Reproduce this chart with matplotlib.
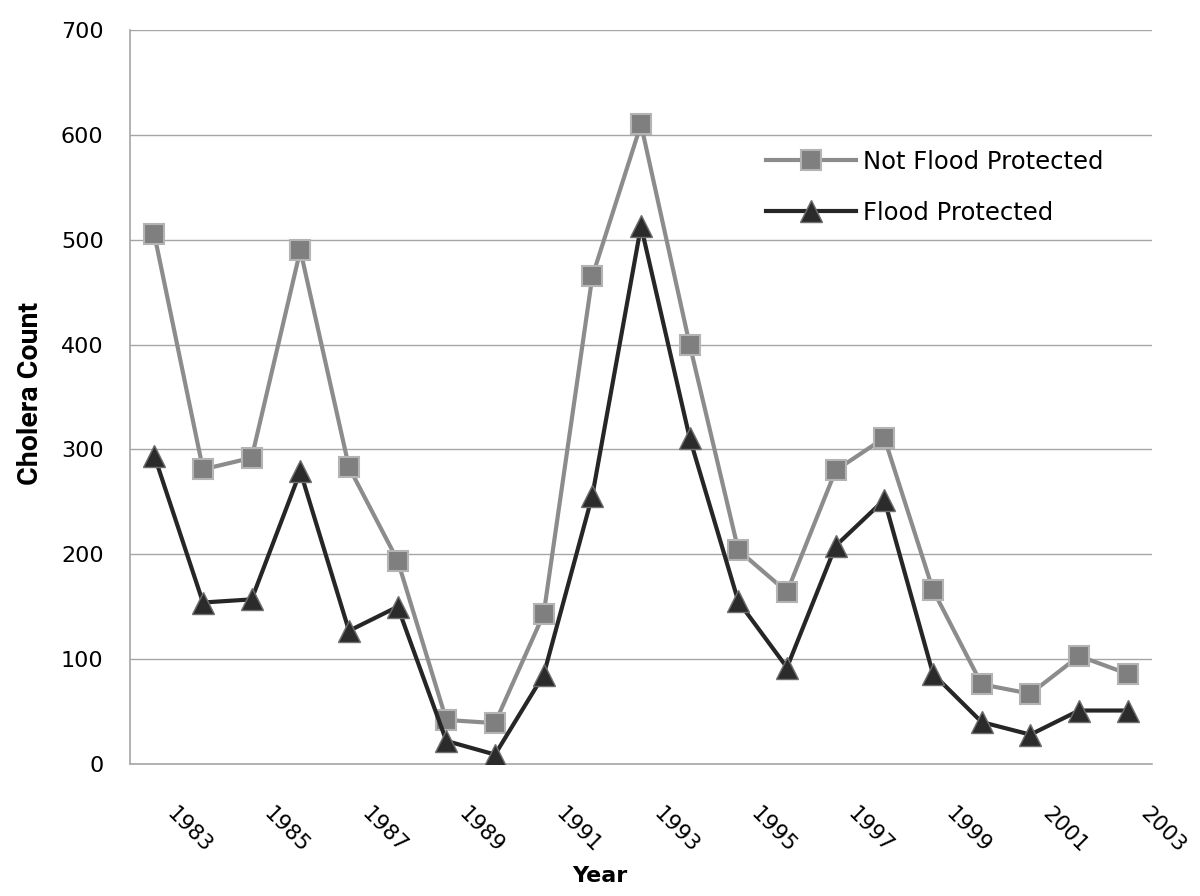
import matplotlib
matplotlib.use("Agg")
import matplotlib.pyplot as plt
from matplotlib.transforms import ScaledTranslation

years = list(range(1983, 2004))
not_protected = [505, 281, 292, 490, 283, 194, 42, 39, 143, 465, 610,
                 400, 204, 164, 280, 311, 166, 76, 67, 103, 86]
protected = [294, 154, 157, 279, 127, 150, 22, 9, 85, 256, 513,
             311, 155, 92, 208, 252, 86, 40, 28, 51, 51]
label_years = years[::2]
y_ticks = [0, 100, 200, 300, 400, 500, 600, 700]

fig = plt.figure(figsize=(12, 8.96), dpi=100)
ax = fig.add_axes([130/1200, 1-764/896, (1152-130)/1200, (764-30)/896])

x = list(range(len(years)))
ax.plot(x, not_protected, color="#8c8c8c", lw=3.0, marker="s", ms=14.5,
        mfc="#7f7f7f", mec="#b4b4b4", mew=1.5, label="Not Flood Protected", zorder=3)
ax.plot(x, protected, color="#262626", lw=3.0, marker="^", ms=16,
        mfc="#2b2b2b", mec="#6e6e6e", mew=1.0, label="Flood Protected", zorder=4)

ax.set_xlim(-0.5, len(years) - 0.5)
ax.set_ylim(0, 700)
ax.set_yticks(y_ticks)
ax.set_yticklabels([str(v) for v in y_ticks], fontsize=16, family="DejaVu Sans")
ax.tick_params(axis="y", length=0, pad=19)
ax.yaxis.grid(True, color="#a6a6a6", lw=1.0)
ax.set_axisbelow(True)
for s in ["top", "right"]:
    ax.spines[s].set_visible(False)
for s in ["left", "bottom"]:
    ax.spines[s].set_color("#a6a6a6")
    ax.spines[s].set_linewidth(1.2)

ax.set_xticks(x[::2])
ax.set_xticklabels([str(v) for v in label_years], fontsize=15.5, family="DejaVu Sans")
ax.tick_params(axis="x", length=0, pad=0)
off = ScaledTranslation(0.35, -0.66, fig.dpi_scale_trans)
for lbl in ax.get_xticklabels():
    lbl.set_rotation(-45)
    lbl.set_ha("center")
    lbl.set_va("center")
    lbl.set_rotation_mode("anchor")
    lbl.set_transform(lbl.get_transform() + off)

fig.text(31/1200, 1-393/896, "Cholera Count", rotation=90, ha="center", va="center",
         fontsize=20.5, fontweight="bold", family=["Roboto"])
fig.text(600/1200, 1-876/896, "Year", ha="center", va="center",
         fontsize=16, fontweight="bold", family="DejaVu Sans")

leg = ax.legend(loc="upper left", bbox_to_anchor=(756/1200, 1-140/896),
                bbox_transform=fig.transFigure, frameon=False,
                prop={"family": "DejaVu Sans", "size": 17.5},
                handlelength=3.7, handletextpad=0.3, labelspacing=1.12,
                borderaxespad=0)

fig.savefig("out.png", dpi=100)
